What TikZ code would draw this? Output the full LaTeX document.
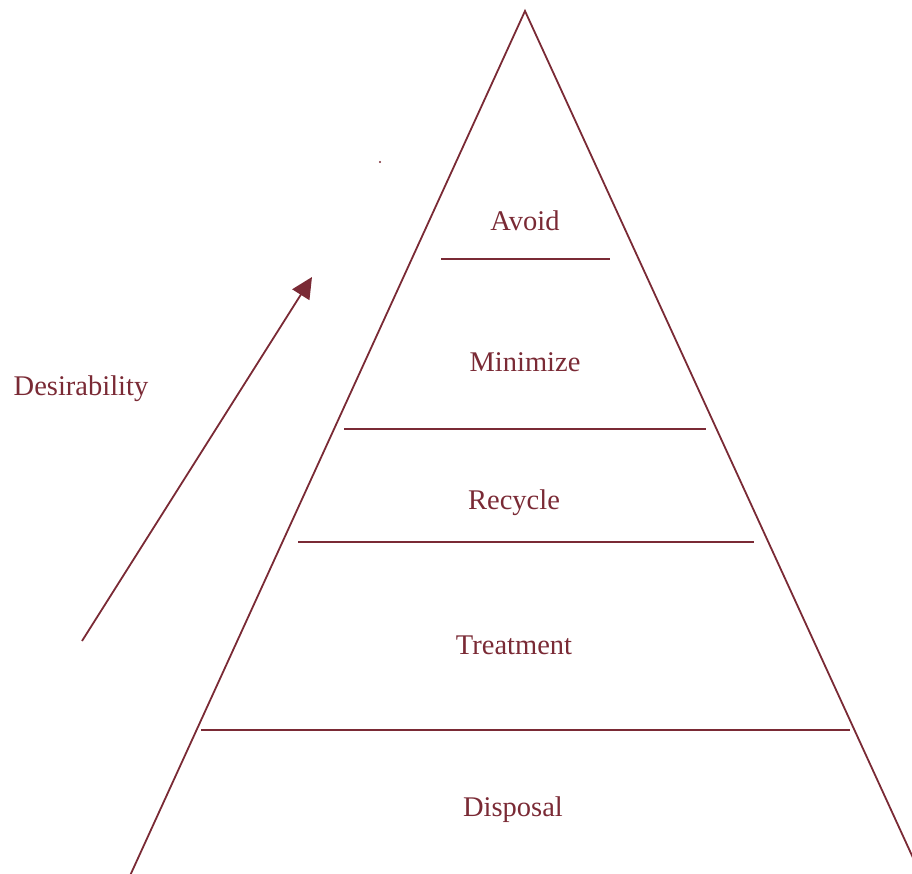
\documentclass[tikz,border=0pt]{standalone}
\usepackage{fontspec}
\setmainfont{Liberation Serif}
\usetikzlibrary{arrows.meta}
\definecolor{maroon}{HTML}{7A2A35}
\begin{document}
\begin{tikzpicture}[x=1pt,y=-1pt,
  edge/.style={draw=maroon,line width=1.8pt},
  lbl/.style={text=maroon,font=\fontsize{28.5}{34}\selectfont,inner sep=0pt,anchor=center}]
\useasboundingbox (0,0) rectangle (912,874);
\clip (0,0) rectangle (912,874);
\coordinate (apex) at (525,11);
\coordinate (bl) at (118,902);
\coordinate (br) at (925,884);
\draw[edge] (bl) -- (apex) -- (br);
\coordinate (l1a) at (441,259); \coordinate (l1b) at (610,259);
\coordinate (l2a) at (344,429); \coordinate (l2b) at (706,429);
\coordinate (l3a) at (298,542); \coordinate (l3b) at (754,542);
\coordinate (l4a) at (201,730); \coordinate (l4b) at (850,730);
\draw[edge] (l1a) -- (l1b);
\draw[edge] (l2a) -- (l2b);
\draw[edge] (l3a) -- (l3b);
\draw[edge] (l4a) -- (l4b);
\node[lbl] (avoid) at (525,221) {Avoid};
\node[lbl] (minimize) at (525,362) {Minimize};
\node[lbl] (recycle) at (514,503) {Recycle};
\node[lbl] (treatment) at (514,645) {Treatment};
\node[lbl] (disposal) at (513,810) {Disposal};
\node[lbl] (desir) at (81,389) {Desirability};
\coordinate (as) at (82,641);
\coordinate (ae) at (312,277);
\draw[edge,-{Triangle[length=21pt,width=20pt]}] (as) -- (ae);
\fill[maroon] (380,162) circle (1.1pt);
\end{tikzpicture}
\end{document}
